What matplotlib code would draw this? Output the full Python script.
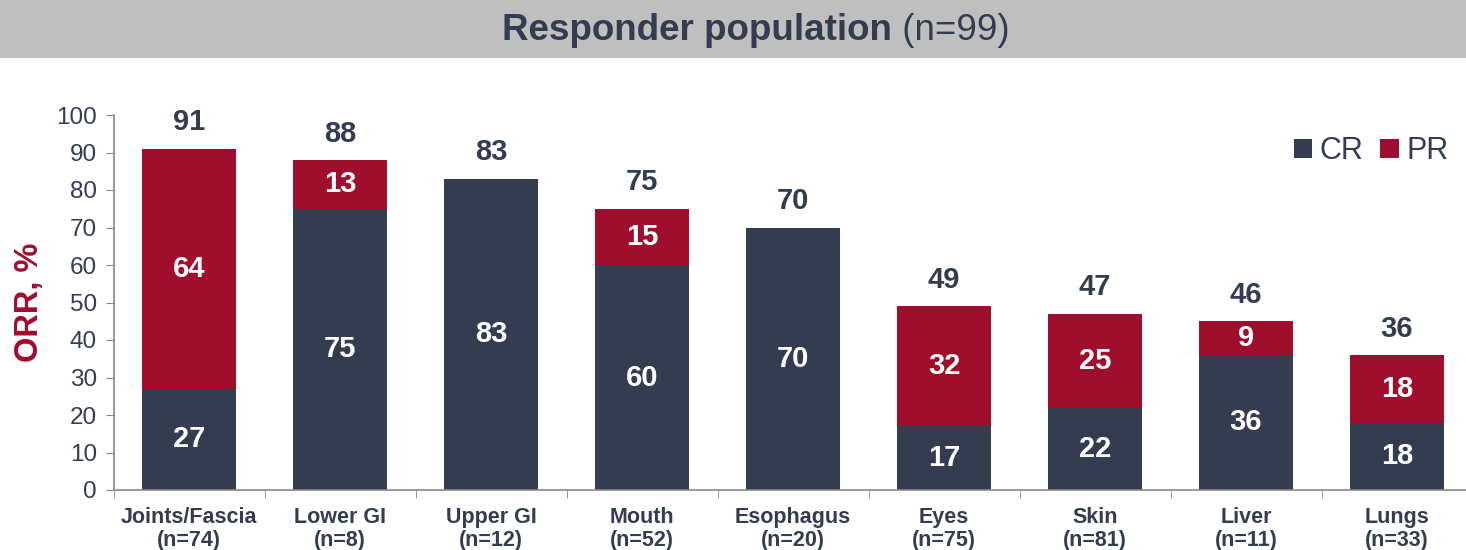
import matplotlib
matplotlib.use("Agg")
import matplotlib.pyplot as plt
from matplotlib.patches import Rectangle
from matplotlib.ticker import FixedLocator
import numpy as np

categories = ["Joints/Fascia\n(n=74)", "Lower GI\n(n=8)", "Upper GI\n(n=12)", "Mouth\n(n=52)",
              "Esophagus\n(n=20)", "Eyes\n(n=75)", "Skin\n(n=81)", "Liver\n(n=11)", "Lungs\n(n=33)"]
cr = [27, 75, 83, 60, 70, 17, 22, 36, 18]
pr = [64, 13, 0, 15, 0, 32, 25, 9, 18]
totals = [91, 88, 83, 75, 70, 49, 47, 46, 36]

CR_COLOR = "#333D4F"
PR_COLOR = "#A00E2E"
TEXT = "#333D4F"
plt.rcParams['font.family'] = ['Liberation Sans', 'DejaVu Sans']

fig = plt.figure(figsize=(14.66, 5.5), dpi=100)
fig.patches.append(Rectangle((0, 1 - 58/550), 1, 58/550, transform=fig.transFigure,
                             facecolor="#BFBFBF", edgecolor="none", zorder=0))
# title with bold and normal parts
tb = fig.text(0, 0, "Responder population", fontsize=26.5, fontweight="bold", color=TEXT)
tn = fig.text(0, 0, " (n=99)", fontsize=26.5, color=TEXT)
fig.canvas.draw()
r = fig.canvas.get_renderer()
wb = tb.get_window_extent(r).width
W = fig.bbox.width
x0 = 502
ypix = 550 - 31
tb.set_position((x0 / W, ypix / 550)); tb.set_va("center")
tn.set_position(((x0 + wb) / W, ypix / 550)); tn.set_va("center")

left_px = 113.5
width_px = 9 * 151
ax = fig.add_axes([left_px/1466, 1 - 490/550, width_px/1466, (490 - 115)/550])
x = np.arange(len(categories))
w = 0.62
ax.bar(x, cr, w, color=CR_COLOR, label="CR", zorder=2)
ax.bar(x, pr, w, bottom=cr, color=PR_COLOR, label="PR", zorder=2)

for i in range(len(categories)):
    if cr[i] > 0:
        ax.text(x[i], cr[i] / 2, str(cr[i]), ha="center", va="center", color="white",
                fontsize=21, fontweight="bold")
    if pr[i] > 0:
        ax.text(x[i], cr[i] + pr[i] / 2, str(pr[i]), ha="center", va="center", color="white",
                fontsize=21, fontweight="bold")
    ax.text(x[i], cr[i] + pr[i] + 3.3, str(totals[i]), ha="center", va="bottom", color=TEXT,
            fontsize=21, fontweight="bold", clip_on=False)

ax.set_xlim(-0.5, len(categories) - 0.5)
ax.set_ylim(0, 100)
ax.set_yticks(range(0, 101, 10))
ax.set_xticks(x)
ax.set_xticklabels(categories, fontsize=15.5, fontweight="bold", color=TEXT, linespacing=1.15)
ax.xaxis.set_minor_locator(FixedLocator(np.arange(-0.5, len(categories), 1.0)))
ax.tick_params(axis="x", which="major", length=0, pad=12)
ax.tick_params(axis="x", which="minor", length=6, color="#888888", direction="out")
ax.tick_params(axis="y", length=6, color="#888888", labelsize=17.5, labelcolor=TEXT, pad=6)
for s in ["top", "right"]:
    ax.spines[s].set_visible(False)
for s in ["left", "bottom"]:
    ax.spines[s].set_color("#888888")
    ax.spines[s].set_linewidth(1.2)
ax.set_ylabel("ORR, %", fontsize=23.5, fontweight="bold", color=PR_COLOR, labelpad=8)

leg = ax.legend(loc="upper right", bbox_to_anchor=((1470 - left_px) / width_px, 1.0),
                ncol=2, frameon=False, borderaxespad=0.3,
                fontsize=22, handlelength=0.6, handleheight=0.6, handletextpad=0.25,
                columnspacing=0.55, labelcolor=TEXT)

fig.savefig("out.png", dpi=100)
